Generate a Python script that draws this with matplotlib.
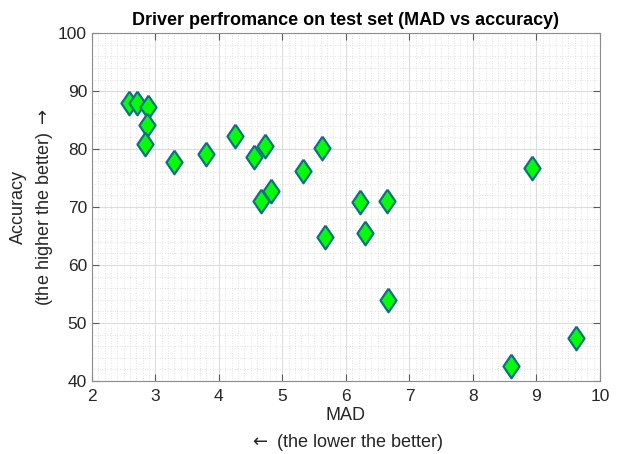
import matplotlib as mpl
import matplotlib.pyplot as plt
import numpy as np

mpl.rcParams['font.family'] = ['Liberation Sans', 'DejaVu Sans']

# MAD vs accuracy for each driver
mad = [2.59, 2.71, 2.89, 2.87, 2.84, 3.30, 3.80, 4.26, 4.56, 4.73, 4.66,
       4.82, 5.33, 5.63, 5.67, 6.22, 6.30, 6.64, 6.66, 8.60, 8.93, 9.62]
acc = [88.0, 88.0, 87.3, 84.1, 80.8, 77.7, 79.2, 82.2, 78.7, 80.6, 71.0,
       72.8, 76.2, 80.1, 64.8, 70.8, 65.6, 71.0, 53.9, 42.5, 76.7, 47.4]

xticks = np.arange(2, 11, 1)
yticks = np.arange(40, 101, 10)

# wider diamond than the built-in 'd'
diamond = [(0, 1), (0.68, 0), (0, -1), (-0.68, 0), (0, 1)]

fig = plt.figure(figsize=(6.25, 4.54), dpi=100)
ax = fig.add_axes((0.147, 0.161, 0.813, 0.766))

ax.set_xlim(2, 10)
ax.set_ylim(40, 100)
ax.set_xticks(xticks)
ax.set_yticks(yticks)
ax.set_xticks(np.arange(2, 10.01, 0.1), minor=True)
ax.set_yticks(np.arange(40, 100.1, 2), minor=True)

ax.grid(True, which='major', color='#dcdcdc', linewidth=0.8)
ax.grid(True, which='minor', color='#d8d8d8', linewidth=0.6, linestyle=(0, (1, 2)))
ax.set_axisbelow(True)

for s in ax.spines.values():
    s.set_color('#8c8c8c')
    s.set_linewidth(0.8)
ax.tick_params(which='major', direction='in', top=True, right=True,
               length=5, color='#5a5a5a', labelsize=12.5, labelcolor='#262626')
ax.tick_params(axis='x', which='major', pad=6)
ax.tick_params(which='minor', length=0, top=True, right=True)

ax.plot(mad, acc, linestyle='none', marker=diamond, markersize=17,
        markerfacecolor='#00ff00', markeredgecolor='#0f6e8c', markeredgewidth=1.6)

ax.set_title('Driver perfromance on test set (MAD vs accuracy)',
             fontsize=13, fontweight='bold', pad=6)
ax.set_xlabel('MAD\n$\\leftarrow$ (the lower the better)', fontsize=13,
              color='#262626', linespacing=1.5, labelpad=2)
ax.set_ylabel('Accuracy\n(the higher the better) $\\rightarrow$', fontsize=13,
              color='#262626', linespacing=1.5, labelpad=2)

plt.savefig('out.png', dpi=100)
